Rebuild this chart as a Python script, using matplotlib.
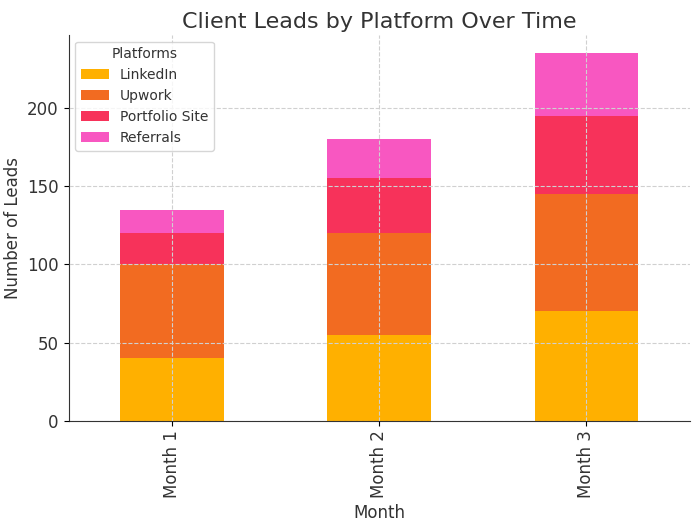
import numpy as np
import matplotlib
matplotlib.use("Agg")
import matplotlib.pyplot as plt

months = ["Month 1", "Month 2", "Month 3"]
platforms = ["LinkedIn", "Upwork", "Portfolio Site", "Referrals"]
linkedin = [40, 55, 70]
upwork = [60, 65, 75]
portfolio = [20, 35, 50]
referrals = [15, 25, 40]
colors = ["#FFB000", "#F26B21", "#F7325A", "#F857C1"]

fig, ax = plt.subplots(figsize=(6.99, 5.26), dpi=100)
x = np.arange(len(months))
bottom = np.zeros(len(months))
for name, vals, c in zip(platforms, [linkedin, upwork, portfolio, referrals], colors):
    ax.bar(x, vals, 0.5, bottom=bottom, color=c, label=name, zorder=1)
    bottom += np.array(vals)

ax.set_xlim(-0.5, 2.5)
ax.set_ylim(0, bottom.max() * 1.05)
ax.set_xticks(x)
ax.set_xticklabels(months, rotation=90, fontsize=12, color="#333333")
ax.tick_params(axis="y", labelsize=12, labelcolor="#333333")
ax.grid(True, linestyle="--", color="#d0d0d0", linewidth=0.8, zorder=3)
ax.set_axisbelow(False)
for s in ["top", "right"]:
    ax.spines[s].set_visible(False)
for s in ["left", "bottom"]:
    ax.spines[s].set_color("#333333")
ax.set_title("Client Leads by Platform Over Time", fontsize=16, color="#333333", pad=5)
ax.set_xlabel("Month", fontsize=12, color="#333333")
ax.set_ylabel("Number of Leads", fontsize=12, color="#333333")
leg = ax.legend(title="Platforms", loc="upper left", fontsize=10, title_fontsize=10)
plt.setp(leg.get_texts(), color="#333333")
leg.get_title().set_color("#333333")

fig.subplots_adjust(left=0.098, right=0.987, top=0.934, bottom=0.2)
plt.savefig("out.png", dpi=100)
